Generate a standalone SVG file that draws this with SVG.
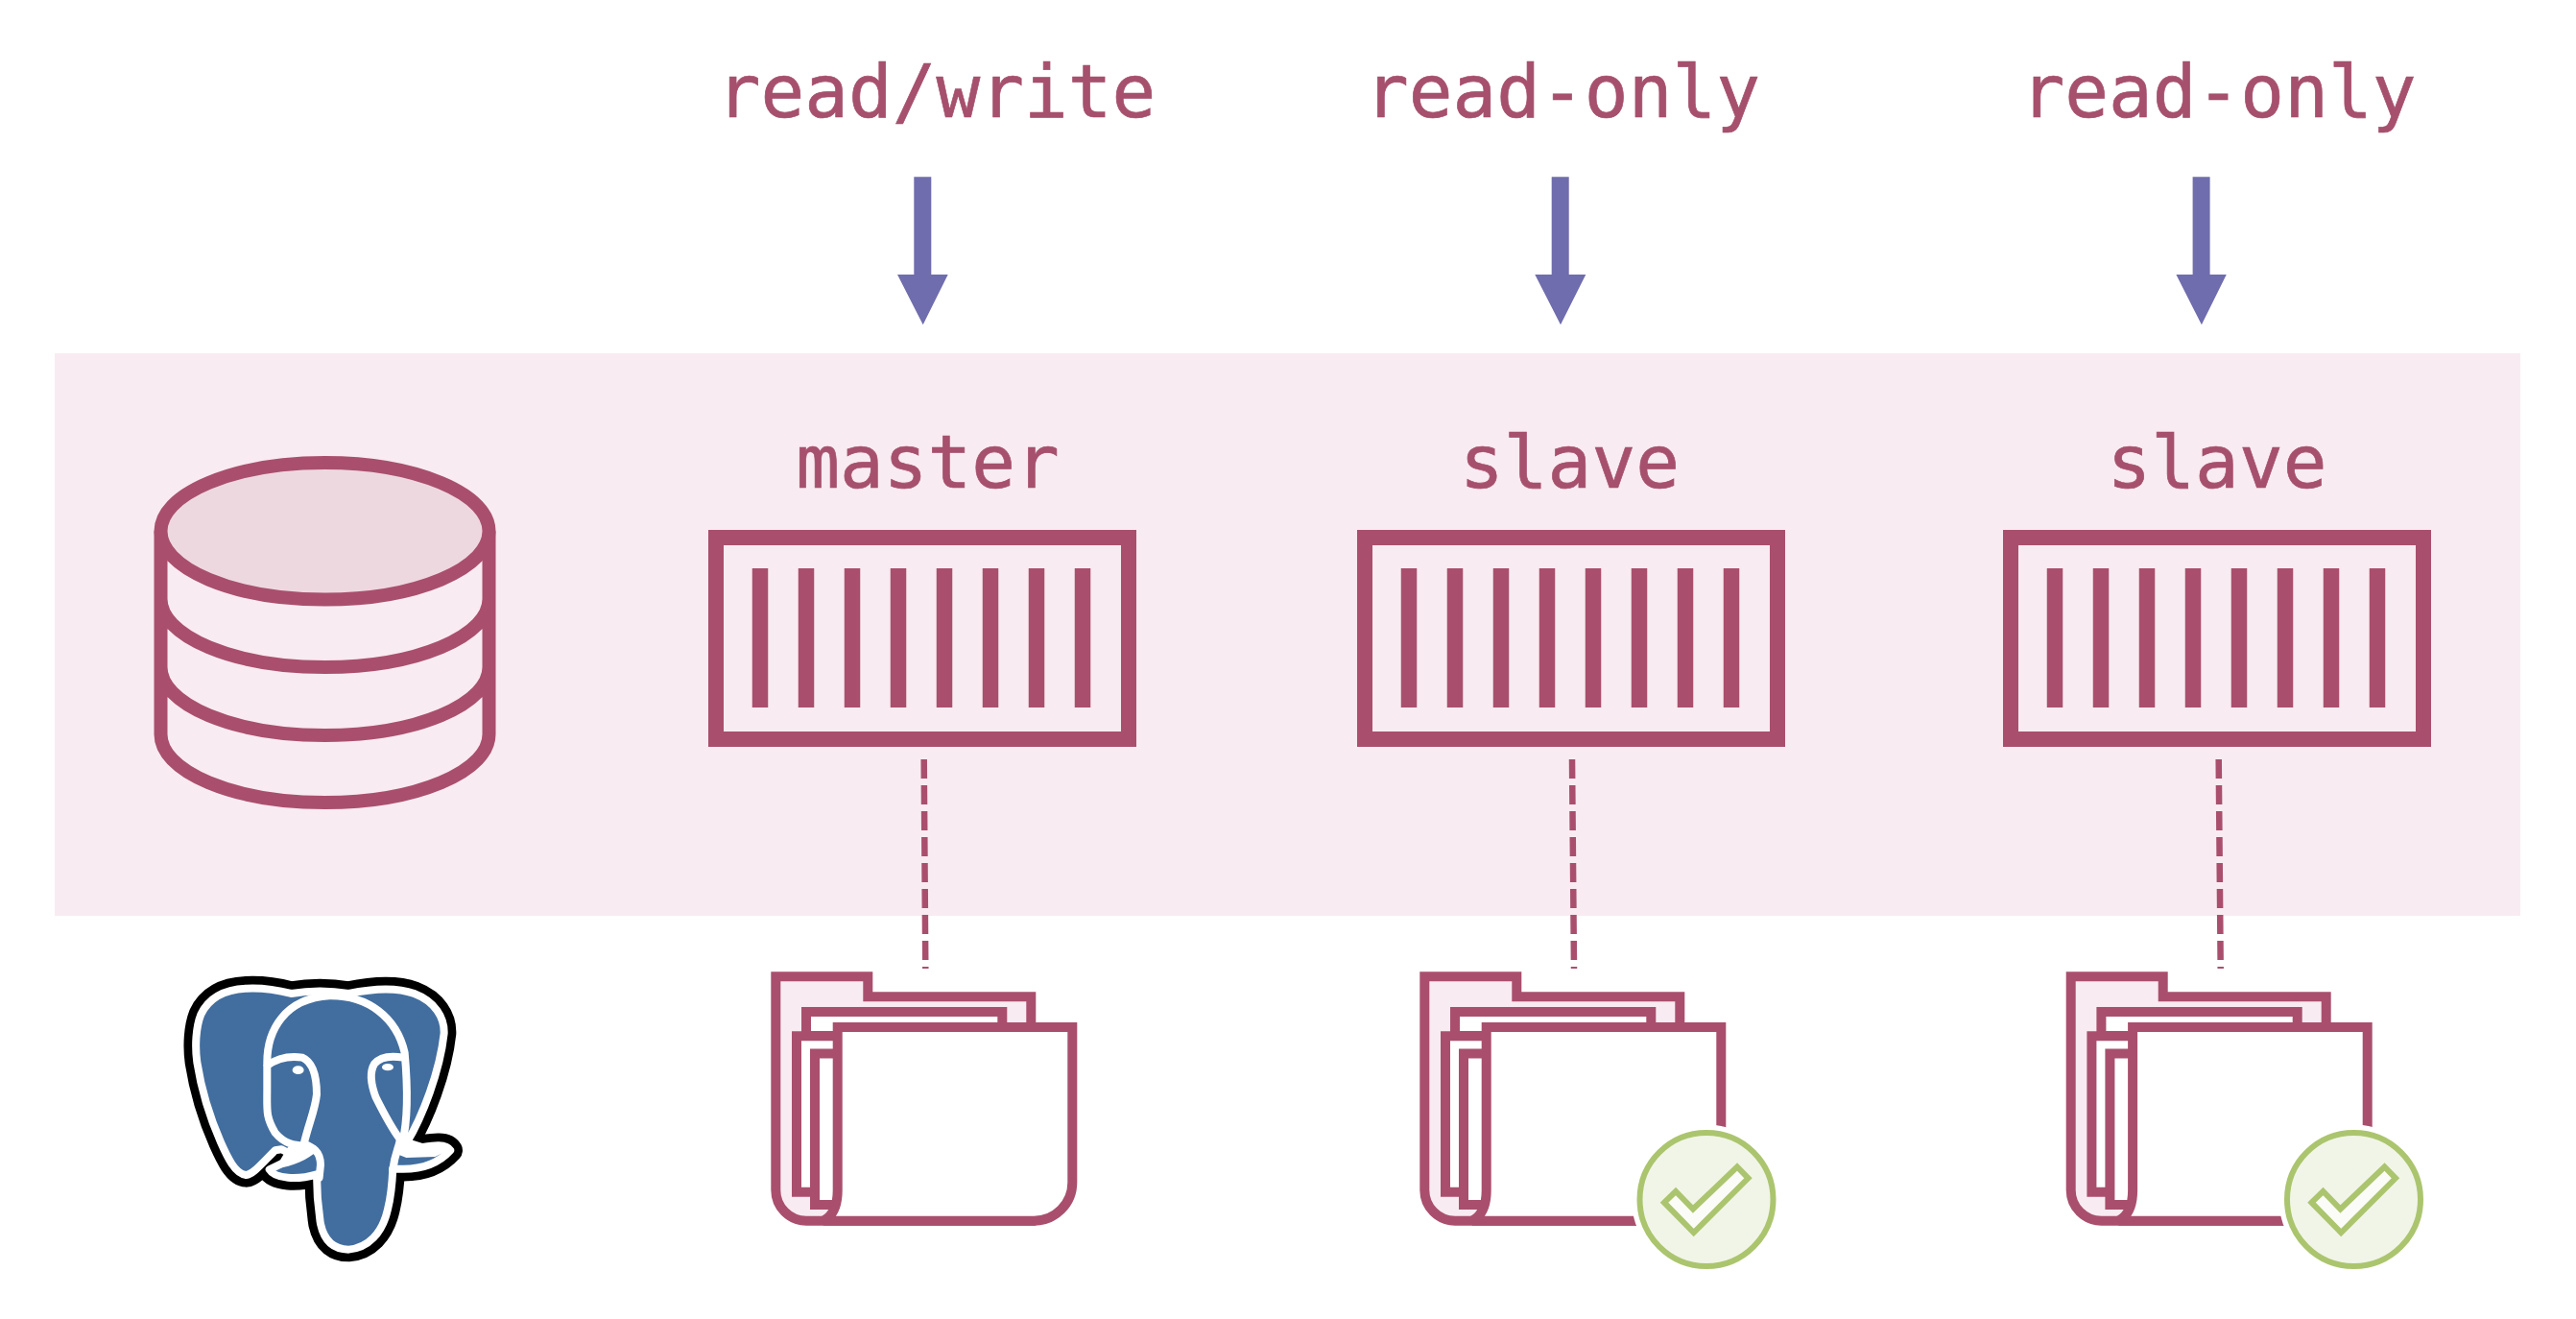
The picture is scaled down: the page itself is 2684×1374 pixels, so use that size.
<svg xmlns="http://www.w3.org/2000/svg" width="2684" height="1374" viewBox="0 0 2684 1374">
<style>
text{font-family:"DejaVu Sans Mono","Liberation Mono",monospace;font-size:76px;fill:#a6506d;stroke:#a6506d;stroke-width:.7px;text-anchor:middle}
.c{fill:none;stroke:#a94f6d;stroke-width:16}
.f{stroke:#a94f6d;stroke-width:10}
.dash{stroke:#a94f6d;stroke-width:6.500;stroke-dasharray:20 7;fill:none}
.arrow{fill:#6f6dad}
.db{fill:none;stroke:#a94f6d;stroke-width:14}
</style>
<defs>
<g id="container"><rect x="746" y="560" width="430" height="210" class="c"/><path class="c" style="stroke-width:16.5" d="M792 592V737M840 592V737M888 592V737M936 592V737M984 592V737M1032 592V737M1080 592V737M1128 592V737"/></g>
<g id="folder">
<path class="f" fill="#f8ebf1" d="M808.300 1017.300H904.300V1038.300H1074.300V1271.700H840A32 32 0 0 1 808.300 1239.700Z"/>
<path class="f" fill="#fff" d="M840 1079V1054H1044.300V1079Z"/>
<path class="f" fill="#fff" d="M872 1079.300H830V1241.700H849"/>
<path class="f" fill="#fff" d="M872 1097.500H849V1255H868"/>
<path class="f" fill="#fff" d="M872.700 1070H1117.300V1231.700A40 40 0 0 1 1077.300 1271.700H858Q872.700 1264 872.700 1240Z"/>
</g>
<g id="badge">
<circle cx="1102" cy="1249.500" r="78" fill="#fff"/>
<circle cx="1102" cy="1249.500" r="69.500" fill="#f1f5e8" stroke="#abc56e" stroke-width="6"/>
<path d="M1058 1252.700L1070 1241L1088 1259.500L1134 1215.500L1145.500 1227.300L1088.700 1284Z" fill="#fbfcf7" stroke="#abc56e" stroke-width="6"/>
</g>
<path id="sil" d="M520 225C470 212 420 207 380 209C310 212 262 240 238 290C222 330 219 390 226 440C240 530 265 610 300 690C320 735 345 790 380 792C400 790 420 765 470 715L490 712L535 735L452 775C470 805 540 808 600 790C600 850 605 900 612 945C625 1005 660 1025 700 1025C760 1020 805 975 822 900C832 860 836 820 838 772C900 778 970 768 1018 715C1005 692 960 700 930 705L882 690C930 610 985 470 998 350C1000 300 970 250 905 225C850 205 780 208 700 225C640 215 580 215 520 225Z"/>
</defs>
<rect id="band" x="57" y="368" width="2569" height="586" fill="#f8ebf1"/>
<g id="db"><path class="db" d="M167.500 553.300V765A171 71 0 0 0 509.500 765V553.300M167.500 624A171 71 0 0 0 509.500 624M167.500 695A171 71 0 0 0 509.500 695"/><ellipse cx="338.500" cy="553.300" rx="171" ry="71.300" fill="#eed8e0" stroke="#a94f6d" stroke-width="14"/></g>
<g id="master"><text x="966.500" y="508">master</text><use href="#container"/></g>
<g id="slave1"><text x="1635.500" y="508">slave</text><use href="#container" x="676"/></g>
<g id="slave2"><text x="2310" y="508">slave</text><use href="#container" x="1349"/></g>
<g id="labels"><text x="975.500" y="122">read/write</text><text x="1628" y="122">read-only</text><text x="2311.500" y="122">read-only</text></g>
<g id="connectors">
<path class="arrow" d="M952.300 184.300H970.300V286H987.700L961.700 338.300L935 286H952.300Z"/>
<path class="arrow" d="M1616.700 184.300H1634.700V286H1652.300L1626 338.300L1599.300 286H1616.700Z"/>
<path class="arrow" d="M2284.600 184.300H2302.600V286H2319.800L2293.900 338.300L2267.400 286H2284.600Z"/>
<path class="dash" d="M962.700 791L964.300 1009"/>
<path class="dash" d="M1638 791L1640 1009"/>
<path class="dash" d="M2311.700 791L2313.700 1009"/>
</g>
<g id="pg" transform="translate(130 960) scale(.3333)">
<use href="#sil" fill="#000" stroke="#000" stroke-width="76" stroke-linejoin="round"/>
<use href="#sil" fill="#426e9f" stroke="#fff" stroke-width="24" stroke-linejoin="round"/>
<path fill="#fff" d="M850 700L990 695L1012 715L970 735L880 738L848 725Z"/>
<path fill="#fff" d="M470 772C530 765 570 745 605 715L560 690L510 705Z"/>
<path fill="none" stroke="#fff" stroke-width="24" stroke-linecap="round" d="M445 440C445 340 500 240 640 232C760 230 850 300 875 410C885 520 885 620 868 690M445 440V520C445 590 440 610 470 660C500 695 530 700 560 700M445 450C480 425 520 420 555 425C590 440 600 490 600 540C595 590 575 630 560 695C585 705 612 715 612 760L608 800M870 425C840 420 800 420 780 445C765 470 770 510 785 550C805 590 830 640 860 680C860 700 845 720 838 775"/>
<ellipse cx="542" cy="464" rx="18" ry="13" fill="#fff"/><ellipse cx="822" cy="455" rx="18" ry="11" fill="#fff"/>
</g>
<g id="folder1"><use href="#folder"/></g>
<g id="folder2"><use href="#folder" x="676"/><use href="#badge" x="676"/></g>
<g id="folder3"><use href="#folder" x="1349.400"/><use href="#badge" x="1350.500"/></g>
</svg>
